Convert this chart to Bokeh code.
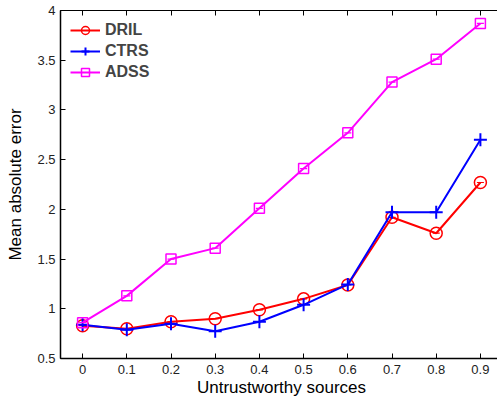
from bokeh.plotting import figure
from bokeh.models import FixedTicker, Legend, LegendItem, LinearAxis, Range1d
from bokeh.embed import file_html
from bokeh.resources import INLINE

x_vals = [0, 0.1, 0.2, 0.3, 0.4, 0.5, 0.6, 0.7, 0.8, 0.9]
dril = [0.83, 0.80, 0.87, 0.90, 0.99, 1.10, 1.24, 1.92, 1.76, 2.27]
ctrs = [0.84, 0.79, 0.85, 0.775, 0.87, 1.04, 1.245, 1.97, 1.97, 2.70]
adss = [0.86, 1.13, 1.50, 1.61, 2.01, 2.41, 2.77, 3.28, 3.51, 3.87]
x_ticks = [0, 0.1, 0.2, 0.3, 0.4, 0.5, 0.6, 0.7, 0.8, 0.9]
x_tick_labels = ["0", "0.1", "0.2", "0.3", "0.4", "0.5", "0.6", "0.7", "0.8", "0.9"]
y_ticks = [0.5, 1, 1.5, 2, 2.5, 3, 3.5, 4]
y_tick_labels = ["0.5", "1", "1.5", "2", "2.5", "3", "3.5", "4"]

FONT = "Liberation Sans"

p = figure(width=502, height=399, output_backend="svg", toolbar_location=None,
           x_range=Range1d(-0.05, 0.95), y_range=Range1d(0.5, 4.0),
           min_border_left=60, min_border_top=10, min_border_right=0, min_border_bottom=41)
p.xgrid.visible = False
p.ygrid.visible = False
p.outline_line_color = "black"
p.outline_line_width = 1
p.background_fill_color = "white"
p.border_fill_color = "white"

for ax in (p.xaxis[0], p.yaxis[0]):
    ax.major_tick_in = 5
    ax.major_tick_out = 0
    ax.minor_tick_in = 0
    ax.minor_tick_out = 0
    ax.axis_line_color = "black"
    ax.axis_line_width = 1.5
    ax.major_tick_line_color = "black"
    ax.major_label_text_font = FONT
    ax.major_label_text_font_size = "13px"
    ax.major_label_text_color = "#222222"
    ax.axis_label_text_font = FONT
    ax.axis_label_text_font_size = "17px"
    ax.axis_label_text_font_style = "normal"
    ax.axis_label_text_color = "black"

p.xaxis[0].ticker = FixedTicker(ticks=x_ticks)
p.xaxis[0].major_label_overrides = {t: l for t, l in zip(x_ticks, x_tick_labels)}
p.xaxis[0].axis_label = "Untrustworthy sources"
p.xaxis[0].major_label_standoff = 6
p.xaxis[0].axis_label_standoff = 1
p.yaxis[0].ticker = FixedTicker(ticks=y_ticks)
p.yaxis[0].major_label_overrides = {t: l for t, l in zip(y_ticks, y_tick_labels)}
p.yaxis[0].axis_label = "Mean absolute error"
p.yaxis[0].major_label_standoff = 5
p.yaxis[0].axis_label_standoff = 9

top = LinearAxis(ticker=FixedTicker(ticks=x_ticks), major_tick_in=5, major_tick_out=0,
                 minor_tick_in=0, minor_tick_out=0,
                 major_label_overrides={t: "" for t in x_ticks}, major_label_standoff=0)
p.add_layout(top, "above")
right = LinearAxis(ticker=FixedTicker(ticks=y_ticks), major_tick_in=5, major_tick_out=0,
                   minor_tick_in=0, minor_tick_out=0,
                   major_label_overrides={t: "" for t in y_ticks}, major_label_standoff=0)
p.add_layout(right, "right")

lw = 2
r1 = p.line(x_vals, dril, color="#ff0000", line_width=lw)
m1 = p.scatter(x_vals, dril, marker="circle", size=12, fill_color=None, line_color="#ff0000", line_width=1.5)
p.scatter(x_vals, dril, marker="dash", size=7, line_color="#ff0000", line_width=1.2)
r2 = p.line(x_vals, ctrs, color="#0000ff", line_width=lw)
m2 = p.scatter(x_vals, ctrs, marker="cross", size=13, line_color="#0000ff", line_width=2)
r3 = p.line(x_vals, adss, color="#ff00ff", line_width=lw)
m3 = p.scatter(x_vals, adss, marker="square", size=10, fill_color=None, line_color="#ff00ff", line_width=1.5)
p.scatter(x_vals, adss, marker="dash", size=7, line_color="#ff00ff", line_width=1.2)

legend = Legend(items=[LegendItem(label="DRIL", renderers=[r1, m1]),
                       LegendItem(label="CTRS", renderers=[r2, m2]),
                       LegendItem(label="ADSS", renderers=[r3, m3])],
                location="top_left")
legend.border_line_color = None
legend.background_fill_alpha = 0
legend.label_text_font = FONT
legend.label_text_font_style = "bold"
legend.label_text_font_size = "16px"
legend.glyph_width = 30
legend.glyph_height = 20
legend.label_height = 20
legend.spacing = 1
legend.padding = 5
legend.margin = 10
legend.label_standoff = 5
p.add_layout(legend)

open("out.html", "w").write(file_html(p, INLINE))
